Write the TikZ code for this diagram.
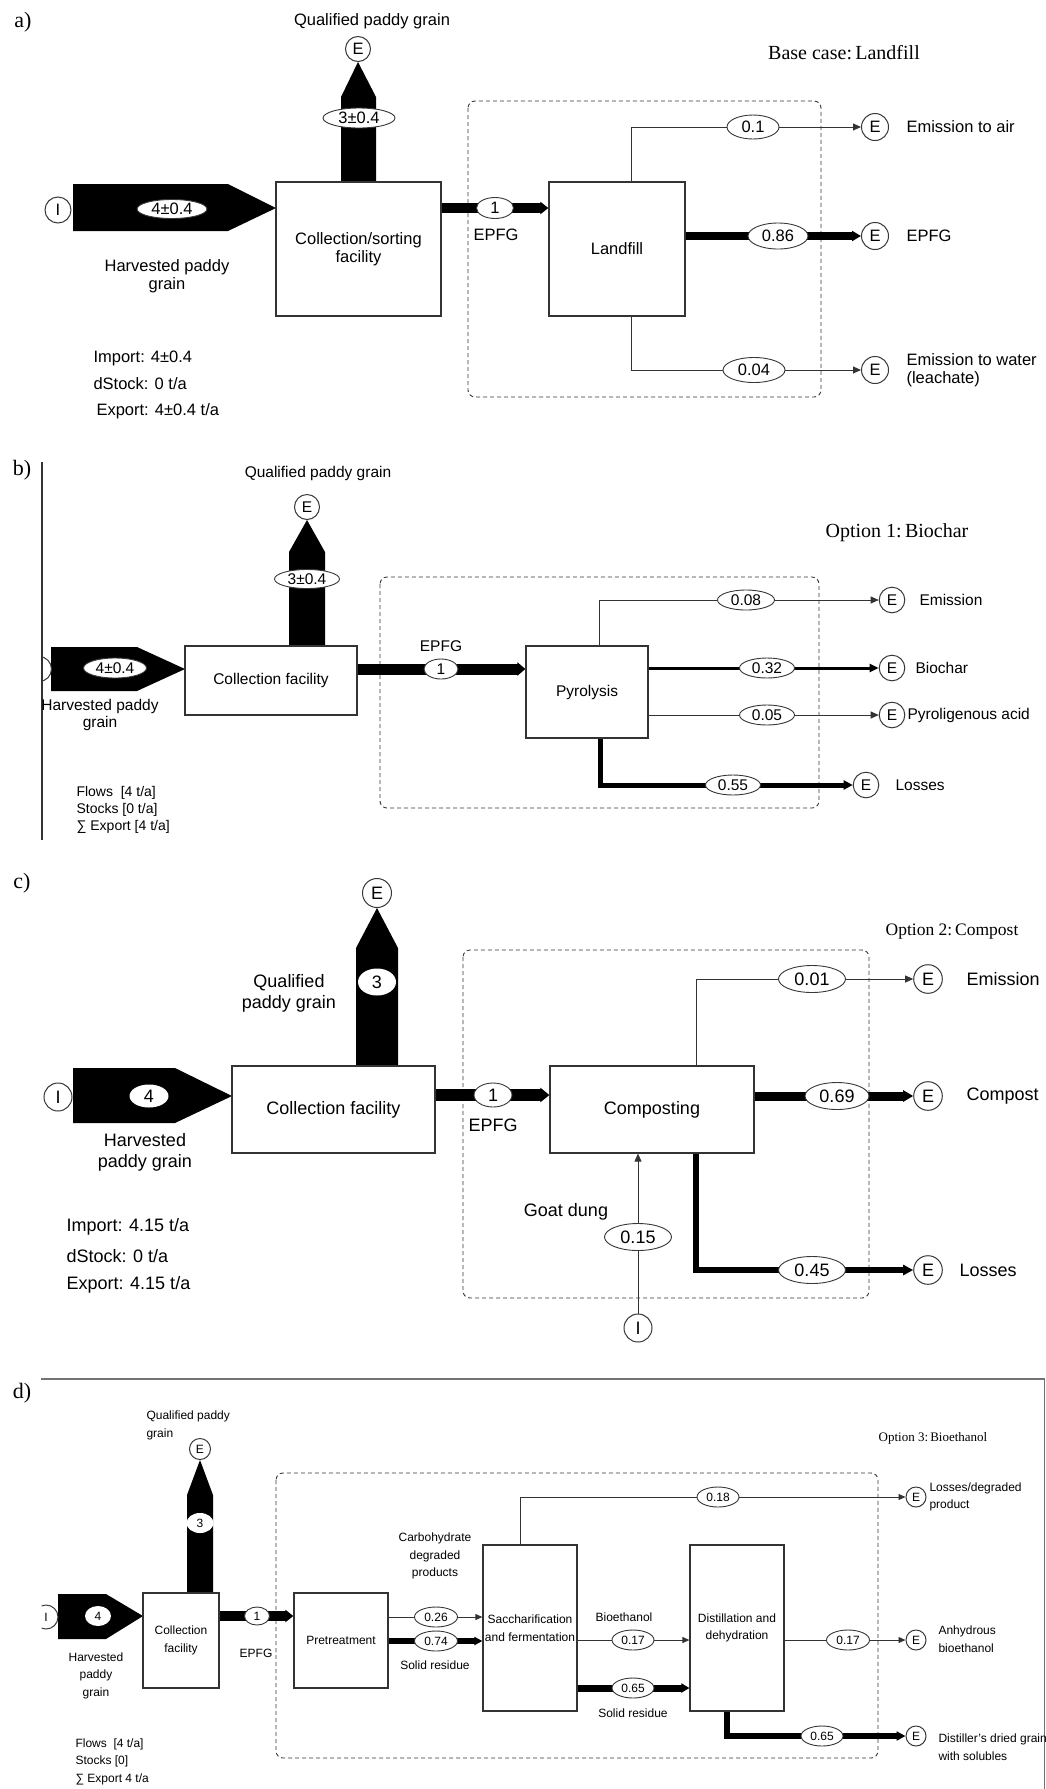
\documentclass[tikz,border=0pt]{standalone}
\usepackage{fontspec}
\setmainfont{Liberation Serif}
\setsansfont{Liberation Sans}
\usetikzlibrary{arrows.meta,shapes.geometric,calc}
\pgfdeclarelayer{back}
\pgfdeclarelayer{bg}
\pgfsetlayers{back,bg,main}
\tikzset{
 bx/.style={draw=black!80, line width=1.2pt, fill=white, align=center, inner sep=0pt},
 el/.style={ellipse, draw=black!78, fill=white, line width=0.9pt, inner sep=0pt},
 ec/.style={circle, draw=black!78, fill=white, line width=1pt, inner sep=0pt},
 thinf/.style={draw=black!80, line width=0.9pt, -{Triangle[length=8pt,width=7pt]}},
 thind/.style={draw=black!80, line width=0.9pt, -{Triangle[length=7pt,width=6pt]}},
 dbox/.style={draw=black!78, line width=0.9pt, dash pattern=on 4pt off 3pt, rounded corners=7pt},
 plbl/.style={font=\rmfamily\fontsize{22}{26}\selectfont},
 txa/.style={font=\sffamily\fontsize{16.5}{18}\selectfont},
 txb/.style={font=\sffamily\fontsize{15.5}{16.5}\selectfont},
 txf/.style={font=\sffamily\fontsize{14}{17}\selectfont},
 txc/.style={font=\sffamily\fontsize{18}{21}\selectfont},
 txd/.style={font=\sffamily\fontsize{12}{17.5}\selectfont},
}
\begin{document}
\begin{tikzpicture}[x=1pt,y=-1pt]
\begin{pgfonlayer}{back}
\fill[white] (0,0) rectangle (1046,1789);
\end{pgfonlayer}
\useasboundingbox (0,0) rectangle (1046,1789);

%%%%%%%%%%%%%%%% panel a
\node[plbl] (pa) at (23,22) {a)};
\node[txa] (qa) at (372,21) {Qualified paddy grain};
\node[ec,txa,minimum size=25pt] (Ea0) at (358,49) {E};
\node[bx,txa,minimum width=165pt,minimum height=134pt] (Ca) at (358.5,249) {Collection/sorting\\facility};
\node[el,txa,minimum width=72pt,minimum height=20pt] (qa1) at (359,118) {3±0.4};
\node[ec,txa,minimum size=26pt] (Ia) at (58,210) {I};
\node[el,txa,minimum width=70pt,minimum height=19pt] (ha1) at (172,209) {4±0.4};
\node[txa,align=center] (ha) at (167,276) {Harvested paddy\\grain};
\node[txa,anchor=west] (ia) at (90,358) {Import: 4±0.4};
\node[txa,anchor=west] (sa) at (90,384) {dStock: 0 t/a};
\node[txa,anchor=west] (xa) at (93,411) {Export: 4±0.4 t/a};
\node[bx,txa,minimum width=136pt,minimum height=134pt] (La) at (617,249) {Landfill};
\node[el,txa,minimum width=37pt,minimum height=21pt] (ma) at (495,208) {1};
\node[txa] (epa) at (496,235) {EPFG};
\node[ec,txa,minimum size=27pt] (Ea1) at (875,127) {E};
\node[ec,txa,minimum size=27pt] (Ea2) at (875,236) {E};
\node[ec,txa,minimum size=27pt] (Ea3) at (875,370) {E};
\node[el,txa,minimum width=52pt,minimum height=24pt] (va1) at (753,127) {0.1};
\node[el,txa,minimum width=60pt,minimum height=26pt] (va2) at (778,236) {0.86};
\node[el,txa,minimum width=62pt,minimum height=25pt] (va3) at (754,370) {0.04};
\node[txa,anchor=west] (la1) at (903,127) {Emission to air};
\node[txa,anchor=west] (la2) at (903,236) {EPFG};
\node[txa,anchor=west,align=left] (la3) at (903,370) {Emission to water\\(leachate)};
\node[font=\rmfamily\fontsize{20}{24}\selectfont] (ta) at (844,53) {Base case:\,Landfill};

%%%%%%%%%%%%%%%% panel b
\node[plbl] (pb) at (22,470) {b)};
\node[txb] (qb) at (318,473) {Qualified paddy grain};
\node[ec,txb,minimum size=25pt] (Eb0) at (307,507) {E};
\node[bx,txb,minimum width=172pt,minimum height=69pt] (Cb) at (271,680.5) {Collection facility};
\node[el,txb,minimum width=65pt,minimum height=19pt] (qb1) at (307,579) {3±0.4};
\begin{scope}
\clip (43,640) rectangle (70,700);
\node[ec,txb,minimum size=25pt] (Ib) at (39,669) {I};
\end{scope}
\node[el,txb,minimum width=63pt,minimum height=20pt] (hb1) at (115,668) {4±0.4};
\node[txb,align=center] (hb) at (100,715) {Harvested paddy\\grain};
\node[txf,anchor=west,align=left] (fb) at (73,810) {Flows~~[4 t/a]\\Stocks [0 t/a]\\∑ Export [4 t/a]};
\node[bx,txb,minimum width=122pt,minimum height=92pt] (Pb) at (587,692) {Pyrolysis};
\node[el,txb,minimum width=34pt,minimum height=20pt] (mb) at (441,669) {1};
\node[txb] (epb) at (441,646) {EPFG};
\node[ec,txb,minimum size=25.6pt] (Eb1) at (892,600) {E};
\node[ec,txb,minimum size=25.6pt] (Eb2) at (892,668) {E};
\node[ec,txb,minimum size=25.6pt] (Eb3) at (892,715) {E};
\node[ec,txb,minimum size=25.6pt] (Eb4) at (866,785) {E};
\node[el,txb,minimum width=57pt,minimum height=20pt] (vb1) at (746,600) {0.08};
\node[el,txb,minimum width=55pt,minimum height=20pt] (vb2) at (767,668) {0.32};
\node[el,txb,minimum width=55pt,minimum height=20pt] (vb3) at (767,715) {0.05};
\node[el,txb,minimum width=55pt,minimum height=20pt] (vb4) at (733,785) {0.55};
\node[txb,anchor=west] (lb1) at (916,600) {Emission};
\node[txb,anchor=west] (lb2) at (912,668) {Biochar};
\node[txb,anchor=west] (lb3) at (904,715) {Pyroligenous acid};
\node[txb,anchor=west] (lb4) at (892,785) {Losses};
\node[font=\rmfamily\fontsize{20}{24}\selectfont] (tb) at (897,533) {Option 1:\,Biochar};

%%%%%%%%%%%%%%%% panel c
\node[plbl] (pc) at (22,883) {c)};
\node[ec,txc,minimum size=29pt] (Ec0) at (377,893) {E};
\node[bx,txc,minimum width=203pt,minimum height=87pt] (Cc) at (333.5,1109.5) {Collection facility};
\node[el,txc,draw=none,minimum width=38pt,minimum height=27pt] (qc1) at (377,982) {3};
\node[txc,align=center] (qc) at (289,993.5) {Qualified\\paddy grain};
\node[ec,txc,minimum size=28pt] (Ic) at (58,1097) {I};
\node[el,txc,draw=none,minimum width=39pt,minimum height=23pt] (hc1) at (149,1096) {4};
\node[txc,align=center] (hc) at (145,1152.5) {Harvested\\paddy grain};
\node[txc,anchor=west] (ic) at (63,1227) {Import: 4.15 t/a};
\node[txc,anchor=west] (sc) at (63,1256) {dStock: 0 t/a};
\node[txc,anchor=west] (xc) at (63,1285) {Export: 4.15 t/a};
\node[bx,txc,minimum width=204pt,minimum height=87pt] (Co) at (652,1109.5) {Composting};
\node[el,txc,minimum width=38pt,minimum height=24pt] (mc) at (493,1095) {1};
\node[txc] (epc) at (493,1125) {EPFG};
\node[ec,txc,minimum size=28.6pt] (Ec1) at (928,979) {E};
\node[ec,txc,minimum size=28.6pt] (Ec2) at (928,1096) {E};
\node[ec,txc,minimum size=28.6pt] (Ec3) at (928,1270) {E};
\node[el,txc,minimum width=67pt,minimum height=27pt] (vc1) at (812,979) {0.01};
\node[el,txc,minimum width=64pt,minimum height=27pt] (vc2) at (837,1096) {0.69};
\node[el,txc,minimum width=67pt,minimum height=27pt] (vc3) at (812,1270) {0.45};
\node[ec,txc,minimum size=28pt] (Ic2) at (638,1328) {I};
\node[el,txc,minimum width=67pt,minimum height=27pt] (vc4) at (638,1237) {0.15};
\node[txc] (gd) at (566,1212) {Goat dung};
\node[txc,anchor=west] (lc1) at (963,979) {Emission};
\node[txc,anchor=west] (lc2) at (963,1096) {Compost};
\node[txc,anchor=west] (lc3) at (956,1270) {Losses};
\node[font=\rmfamily\fontsize{17.5}{21}\selectfont] (tc) at (952,932) {Option 2:\,Compost};

%%%%%%%%%%%%%%%% panel d
\node[plbl] (pd) at (22,1393) {d)};
\node[txd,anchor=west,align=left] (qd) at (143,1425.5) {Qualified paddy\\grain};
\node[ec,txd,minimum size=21pt] (Ed0) at (200,1449) {E};
\node[bx,txd,minimum width=76pt,minimum height=95pt] (Cd) at (181,1640.5) {Collection\\facility};
\node[el,txd,draw=none,minimum width=27pt,minimum height=20pt] (qd1) at (200,1523) {3};
\begin{scope}
\clip (41.5,1590) rectangle (70,1645);
\node[ec,txd,minimum size=24pt] (Id) at (46,1617) {I};
\end{scope}
\node[el,txd,draw=none,minimum width=26pt,minimum height=20pt] (hd1) at (98,1616) {4};
\node[txd,align=center] (hd) at (96,1675.5) {Harvested\\paddy\\grain};
\node[txd,anchor=west,align=left] (fd) at (72,1761.5) {Flows~~[4 t/a]\\Stocks [0]\\∑ Export 4 t/a};
\node[bx,txd,minimum width=94pt,minimum height=95pt] (Pt) at (341,1640.5) {Pretreatment};
\node[el,txd,minimum width=25pt,minimum height=18pt] (md) at (257,1616) {1};
\node[txd] (epd) at (256,1653) {EPFG};
\node[bx,txd,minimum width=94pt,minimum height=166pt] (Sa) at (530,1628) {Saccharification\\and fermentation};
\node[bx,txd,minimum width=94pt,minimum height=166pt] (Di) at (737,1628) {Distillation and\\dehydration};
\node[el,txd,minimum width=43pt,minimum height=20pt] (w1) at (436,1617) {0.26};
\node[el,txd,minimum width=43pt,minimum height=20pt] (w2) at (436,1641) {0.74};
\node[txd,align=center] (cd) at (435,1556) {Carbohydrate\\degraded\\products};
\node[txd] (sd1) at (435,1665) {Solid residue};
\node[el,txd,minimum width=42pt,minimum height=20pt] (w3) at (718,1497) {0.18};
\node[el,txd,minimum width=42pt,minimum height=20pt] (w4) at (633,1640) {0.17};
\node[txd] (bd) at (624,1617) {Bioethanol};
\node[el,txd,minimum width=42pt,minimum height=20pt] (w5) at (633,1688) {0.65};
\node[txd] (sd2) at (633,1713) {Solid residue};
\node[el,txd,minimum width=43pt,minimum height=20pt] (w6) at (848,1640) {0.17};
\node[el,txd,minimum width=42pt,minimum height=20pt] (w7) at (822,1736) {0.65};
\node[ec,txd,minimum size=20pt] (Ed1) at (916,1497) {E};
\node[ec,txd,minimum size=20pt] (Ed2) at (916,1640) {E};
\node[ec,txd,minimum size=20pt] (Ed3) at (916,1736) {E};
\node[txd,anchor=west,align=left] (ld1) at (926,1497) {Losses/degraded\\product};
\node[txd,anchor=west,align=left] (ld2) at (935,1639) {Anhydrous\\bioethanol};
\node[txd,anchor=west,align=left] (ld3) at (935,1747) {Distiller’s dried grain\\with solubles};
\node[font=\rmfamily\fontsize{13}{15}\selectfont] (td) at (933,1438) {Option 3:\,Bioethanol};

%%%%%%%%%%%%%%%% connectors (behind nodes)
\begin{pgfonlayer}{bg}
% a
\draw[dbox] (468,101) rectangle (821,397);
\fill (341,182) -- (341,97) -- (Ea0.south) -- (376,97) -- (376,182) -- cycle;
\fill (73,184) -- (228,184) -- (276,208) -- (228,231) -- (73,231) -- cycle;
\draw[line width=10pt,-{Triangle[length=8pt,width=12pt]}] (Ca.east |- ma) -- (La.west |- ma);
\draw[thinf] ([xshift=14pt]La.north) |- (Ea1);
\draw[line width=8pt,-{Triangle[length=9pt,width=10pt]}] (La.east |- Ea2) -- (Ea2);
\draw[thinf] ([xshift=14pt]La.south) |- (Ea3);
% b
\draw[black!80, line width=2.2pt] (42,462) -- (42,840);
\draw[dbox] (380,577) rectangle (819,808);
\fill (289,646) -- (289,552) -- (Eb0.south) -- (325,552) -- (325,646) -- cycle;
\fill (51,647) -- (137,647) -- (185,669) -- (137,691) -- (51,691) -- cycle;
\draw[line width=11pt,-{Triangle[length=8pt,width=13pt]}] (Cb.east |- mb) -- (Pb.west |- mb);
\draw[thinf] ([xshift=12pt]Pb.north) |- (Eb1);
\draw[line width=3pt,-{Triangle[length=9pt,width=8pt]}] (Pb.east |- Eb2) -- (Eb2);
\draw[thinf] (Pb.east |- Eb3) -- (Eb3);
\draw[line width=5pt,-{Triangle[length=9pt,width=9pt]}] ([xshift=13pt]Pb.south) |- (Eb4);
% c
\draw[dbox] (463,950) rectangle (869,1298);
\fill (356,1066) -- (356,948) -- (Ec0.south) -- (398,948) -- (398,1066) -- cycle;
\fill (73,1068) -- (175,1068) -- (232,1096) -- (175,1123) -- (73,1123) -- cycle;
\draw[line width=12pt,-{Triangle[length=9pt,width=14pt]}] (Cc.east |- mc) -- (Co.west |- mc);
\draw[thinf] ([xshift=44pt]Co.north) |- (Ec1);
\draw[line width=9pt,-{Triangle[length=10pt,width=11pt]}] (Co.east |- Ec2) -- (Ec2);
\draw[line width=6pt,-{Triangle[length=10pt,width=10pt]}] ([xshift=44pt]Co.south) |- (Ec3);
\draw[thinf] (Ic2) -- (Ic2 |- Co.south);
% d
\draw[black!55, line width=1.2pt] (41,1379) -- (1044.5,1379) -- (1044.5,1789);
\draw[dbox] (276,1473) rectangle (878,1758);
\fill (187,1593) -- (187,1495) -- (Ed0.south) -- (213,1495) -- (213,1593) -- cycle;
\fill (58,1594) -- (106,1594) -- (143,1616) -- (106,1639) -- (58,1639) -- cycle;
\draw[line width=10pt,-{Triangle[length=8pt,width=12pt]}] (Cd.east |- md) -- (Pt.west |- md);
\draw[thind] (Pt.east |- w1) -- (Sa.west |- w1);
\draw[line width=6pt,-{Triangle[length=8pt,width=8pt]}] (Pt.east |- w2) -- (Sa.west |- w2);
\draw[thind] ([xshift=-10pt]Sa.north) |- (Ed1);
\draw[thind] (Sa.east |- w4) -- (Di.west |- w4);
\draw[line width=7pt,-{Triangle[length=8pt,width=9pt]}] (Sa.east |- w5) -- (Di.west |- w5);
\draw[thind] (Di.east |- Ed2) -- (Ed2);
\draw[line width=6pt,-{Triangle[length=9pt,width=9pt]}] ([xshift=-10pt]Di.south) |- (Ed3);
\end{pgfonlayer}
\end{tikzpicture}
\end{document}
